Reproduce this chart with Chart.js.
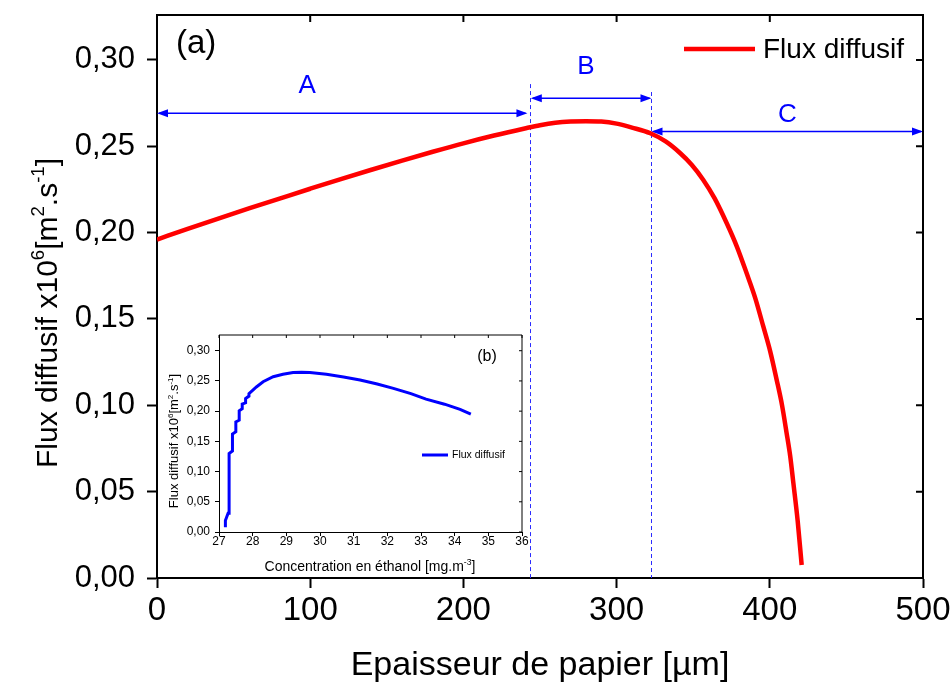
<!DOCTYPE html>
<html>
<head>
<meta charset="utf-8">
<script src="https://cdn.jsdelivr.net/npm/chart.js@4.4.1/dist/chart.umd.min.js"></script>
<style>
  html, body { margin: 0; padding: 0; background: #fff; }
  #wrap { position: relative; width: 950px; height: 686px; }
  #main { position: absolute; left: 0; top: 0; }
  #inset { position: absolute; left: 150px; top: 325px; }
</style>
</head>
<body>
<div id="wrap">
  <canvas id="main" width="950" height="686"></canvas>
  <canvas id="inset" width="385" height="260"></canvas>
</div>
<script>
// ---------------- data (main chart) ----------------
const seriesLabel = 'Flux diffusif';
const thickness = [0, 20, 40, 60, 80, 100, 120, 140, 160, 180, 200, 220, 240, 250, 260, 270, 280, 290, 300, 310, 322, 332, 341.4, 349, 356.6, 364, 371.9, 378.5, 384.9, 390.5, 395.8, 400.3, 404.5, 408, 411, 413.3, 415.4, 418.2, 420.8];
const fluxMain  = [0.1960, 0.2021, 0.2081, 0.2140, 0.2197, 0.2254, 0.2310, 0.2364, 0.2417, 0.2468, 0.2517, 0.2562, 0.2603, 0.2622, 0.2636, 0.2643, 0.2645, 0.2643, 0.2631, 0.2608, 0.2575, 0.2528, 0.2461, 0.2393, 0.2305, 0.2198, 0.2054, 0.1919, 0.1764, 0.1621, 0.1455, 0.1311, 0.1147, 0.1000, 0.0838, 0.0707, 0.0548, 0.0330, 0.0075];

// region annotations (data coordinates)
const regionLabels = ['A', 'B', 'C'];
const regionStart  = [0, 244, 322.8];
const regionEnd    = [241.8, 322.8, 500];
const regionArrowY = [0.2691, 0.2778, 0.2585];
const regionLabelX = [98, 280, 411.5];
const regionLabelY = [0.2847, 0.2957, 0.2680];
const boundaryX    = [243.5, 322.5];
const boundaryTopY = [0.286, 0.2814];

const panelLabelMain = '(a)';
const xTitleMain = 'Epaisseur de papier [µm]';
const yTitleParts = [{t: 'Flux diffusif x10'}, {t: '6', sup: true}, {t: '[m'}, {t: '2', sup: true}, {t: '.s'}, {t: '-1', sup: true}, {t: ']'}];

// ---------------- data (inset) ----------------
const concentration = [27.19, 27.19, 27.27, 27.30, 27.30, 27.40, 27.40, 27.50, 27.50, 27.60, 27.60, 27.69, 27.69, 27.79, 27.79, 27.89, 27.89, 27.99, 28.11, 28.31, 28.61, 28.90, 29.20, 29.45, 29.70, 30.19, 30.70, 31.19, 31.70, 32.18, 32.70, 33.15, 33.70, 34.16, 34.48];
const fluxInset     = [0.008, 0.019, 0.031, 0.031, 0.130, 0.134, 0.162, 0.166, 0.182, 0.185, 0.2006, 0.204, 0.2116, 0.2138, 0.221, 0.2249, 0.229, 0.234, 0.240, 0.2486, 0.257, 0.261, 0.264, 0.2645, 0.264, 0.261, 0.2565, 0.2514, 0.2448, 0.2376, 0.229, 0.2199, 0.2115, 0.2028, 0.195];
const panelLabelInset = '(b)';
const xTitleInsetParts = [{t: 'Concentration en éthanol [mg.m'}, {t: '-3', sup: true}, {t: ']'}];

// ---------------- helpers ----------------
const FAM = '"Liberation Sans", Arial, sans-serif';
const fmtComma = v => v.toFixed(2).replace('.', ',');

function drawRich(ctx, parts, x, y, size, color, rotate) {
  ctx.save();
  ctx.translate(x, y);
  if (rotate) ctx.rotate(-Math.PI / 2);
  ctx.fillStyle = color;
  ctx.textBaseline = 'alphabetic';
  ctx.textAlign = 'left';
  const supSize = size * 0.62;
  let total = 0;
  const widths = parts.map(p => {
    ctx.font = (p.sup ? supSize : size) + 'px ' + FAM;
    const w = ctx.measureText(p.t).width;
    total += w;
    return w;
  });
  let cx = -total / 2;
  parts.forEach((p, i) => {
    ctx.font = (p.sup ? supSize : size) + 'px ' + FAM;
    ctx.fillText(p.t, cx, p.sup ? -size * 0.42 : 0);
    cx += widths[i];
  });
  ctx.restore();
}

function drawArrow(ctx, x1, x2, y, color) {
  const L = 11, H = 4;
  ctx.save();
  ctx.strokeStyle = color;
  ctx.fillStyle = color;
  ctx.lineWidth = 1.5;
  ctx.beginPath();
  ctx.moveTo(x1 + 2, y);
  ctx.lineTo(x2 - 2, y);
  ctx.stroke();
  ctx.beginPath();
  ctx.moveTo(x1, y); ctx.lineTo(x1 + L, y - H); ctx.lineTo(x1 + L, y + H); ctx.closePath(); ctx.fill();
  ctx.beginPath();
  ctx.moveTo(x2, y); ctx.lineTo(x2 - L, y - H); ctx.lineTo(x2 - L, y + H); ctx.closePath(); ctx.fill();
  ctx.restore();
}

function framePlugin(id, lw, tickLen) {
  return {
    id: id,
    afterDraw(chart) {
      const {ctx, chartArea: a, scales} = chart;
      ctx.save();
      ctx.strokeStyle = '#000';
      ctx.lineWidth = lw;
      ctx.beginPath();
      ctx.moveTo(a.left, a.top); ctx.lineTo(a.right, a.top); ctx.lineTo(a.right, a.bottom);
      ctx.stroke();
      ctx.beginPath();
      scales.x.ticks.forEach(t => {
        const px = scales.x.getPixelForValue(t.value);
        ctx.moveTo(px, a.top); ctx.lineTo(px, a.top + tickLen);
      });
      scales.y.ticks.forEach(t => {
        const py = scales.y.getPixelForValue(t.value);
        ctx.moveTo(a.right, py); ctx.lineTo(a.right - tickLen, py);
      });
      ctx.stroke();
      ctx.restore();
    }
  };
}

function fixX(h) { return s => { s.height = h; s.paddingLeft = 0; s.paddingRight = 0; }; }
function fixY(w) { return s => { s.width = w; s.paddingTop = 0; s.paddingBottom = 0; }; }

// ---------------- main chart ----------------
const mainAnnot = {
  id: 'mainAnnot',
  beforeDraw(chart) {
    const ctx = chart.ctx;
    ctx.save();
    ctx.fillStyle = '#fff';
    ctx.fillRect(0, 0, chart.width, chart.height);
    ctx.restore();
  },
  beforeDatasetsDraw(chart) {
    const {ctx, chartArea: a, scales: {x, y}} = chart;
    ctx.save();
    ctx.strokeStyle = '#2a2aff';
    ctx.lineWidth = 1;
    ctx.setLineDash([4, 3]);
    boundaryX.forEach((bx, i) => {
      const px = Math.round(x.getPixelForValue(bx)) + 0.5;
      ctx.beginPath();
      ctx.moveTo(px, y.getPixelForValue(boundaryTopY[i]));
      ctx.lineTo(px, a.bottom);
      ctx.stroke();
    });
    ctx.restore();
    regionLabels.forEach((lab, i) => {
      drawArrow(ctx, x.getPixelForValue(regionStart[i]), x.getPixelForValue(regionEnd[i]), y.getPixelForValue(regionArrowY[i]), '#0000ff');
      ctx.save();
      ctx.fillStyle = '#0000ff';
      ctx.font = '26px ' + FAM;
      ctx.textAlign = 'center';
      ctx.textBaseline = 'middle';
      ctx.fillText(lab, x.getPixelForValue(regionLabelX[i]), y.getPixelForValue(regionLabelY[i]));
      ctx.restore();
    });
  },
  afterDraw(chart) {
    const ctx = chart.ctx;
    ctx.save();
    ctx.fillStyle = '#000';
    ctx.font = '33px ' + FAM;
    ctx.textAlign = 'left';
    ctx.textBaseline = 'middle';
    ctx.fillText(panelLabelMain, 176, 44);
    ctx.strokeStyle = '#ff0000';
    ctx.lineWidth = 4.5;
    ctx.beginPath();
    ctx.moveTo(684, 49); ctx.lineTo(755, 49);
    ctx.stroke();
    ctx.font = '28px ' + FAM;
    ctx.fillText(chart.data.datasets[0].label, 763, 50);
    ctx.restore();
    drawRich(ctx, yTitleParts, 57, 313, 30, '#000', true);
  }
};

new Chart(document.getElementById('main'), {
  type: 'scatter',
  data: {
    datasets: [{
      label: seriesLabel,
      data: thickness.map((v, i) => ({x: v, y: fluxMain[i]})),
      showLine: true,
      borderColor: '#ff0000',
      backgroundColor: '#ff0000',
      borderWidth: 4.5,
      pointRadius: 0,
      cubicInterpolationMode: 'monotone',
      fill: false
    }]
  },
  options: {
    responsive: false,
    animation: false,
    events: [],
    layout: {padding: {top: 15, right: 27, left: 0, bottom: 0}},
    plugins: {legend: {display: false}, tooltip: {enabled: false}},
    scales: {
      x: {
        type: 'linear', min: 0, max: 500,
        afterFit: fixX(108),
        ticks: {stepSize: 100, includeBounds: false, maxRotation: 0, color: '#000', padding: 3, font: {family: FAM, size: 33}},
        grid: {drawOnChartArea: false, tickLength: 10, tickWidth: 2, tickColor: '#000'},
        border: {color: '#000', width: 2},
        title: {display: true, text: xTitleMain, color: '#000', padding: {top: 0, bottom: 0}, font: {family: FAM, size: 34}}
      },
      y: {
        type: 'linear', min: 0, max: 0.326,
        afterFit: fixY(157),
        ticks: {stepSize: 0.05, includeBounds: false, color: '#000', padding: 12, font: {family: FAM, size: 31}, callback: v => fmtComma(v)},
        grid: {drawOnChartArea: false, tickLength: 10, tickWidth: 2, tickColor: '#000'},
        border: {color: '#000', width: 2}
      }
    }
  },
  plugins: [mainAnnot, framePlugin('mainFrame', 2, 7)]
});

// ---------------- inset chart ----------------
const insetAnnot = {
  id: 'insetAnnot',
  afterDraw(chart) {
    const ctx = chart.ctx;
    ctx.save();
    ctx.fillStyle = '#000';
    ctx.font = '16px ' + FAM;
    ctx.textAlign = 'center';
    ctx.textBaseline = 'middle';
    ctx.fillText(panelLabelInset, 337, 32);
    ctx.strokeStyle = '#0000ff';
    ctx.lineWidth = 3;
    ctx.beginPath();
    ctx.moveTo(272, 130); ctx.lineTo(298, 130);
    ctx.stroke();
    ctx.font = '10.5px ' + FAM;
    ctx.textAlign = 'left';
    ctx.fillText(chart.data.datasets[0].label, 302, 130);
    ctx.restore();
    drawRich(ctx, yTitleParts, 28, 116, 13, '#000', true);
    drawRich(ctx, xTitleInsetParts, 220, 246, 14, '#000', false);
  }
};

new Chart(document.getElementById('inset'), {
  type: 'scatter',
  data: {
    datasets: [{
      label: seriesLabel,
      data: concentration.map((v, i) => ({x: v, y: fluxInset[i]})),
      showLine: true,
      borderColor: '#0000ff',
      backgroundColor: '#0000ff',
      borderWidth: 3,
      pointRadius: 0,
      tension: 0,
      fill: false
    }]
  },
  options: {
    responsive: false,
    animation: false,
    events: [],
    layout: {padding: {top: 10, right: 13, left: 0, bottom: 0}},
    plugins: {legend: {display: false}, tooltip: {enabled: false}},
    scales: {
      x: {
        type: 'linear', min: 27, max: 36,
        afterFit: fixX(53),
        ticks: {stepSize: 1, includeBounds: false, maxRotation: 0, autoSkip: false, color: '#000', padding: -2, font: {family: FAM, size: 12}},
        grid: {drawOnChartArea: false, tickLength: 4, tickWidth: 1, tickColor: '#000'},
        border: {color: '#000', width: 1}
      },
      y: {
        type: 'linear', min: 0, max: 0.326,
        afterFit: fixY(69),
        ticks: {stepSize: 0.05, includeBounds: false, color: '#000', padding: 5, font: {family: FAM, size: 12}, callback: v => fmtComma(v)},
        grid: {drawOnChartArea: false, tickLength: 4, tickWidth: 1, tickColor: '#000'},
        border: {color: '#000', width: 1}
      }
    }
  },
  plugins: [insetAnnot, framePlugin('insetFrame', 1, 3)]
});
</script>
</body>
</html>
